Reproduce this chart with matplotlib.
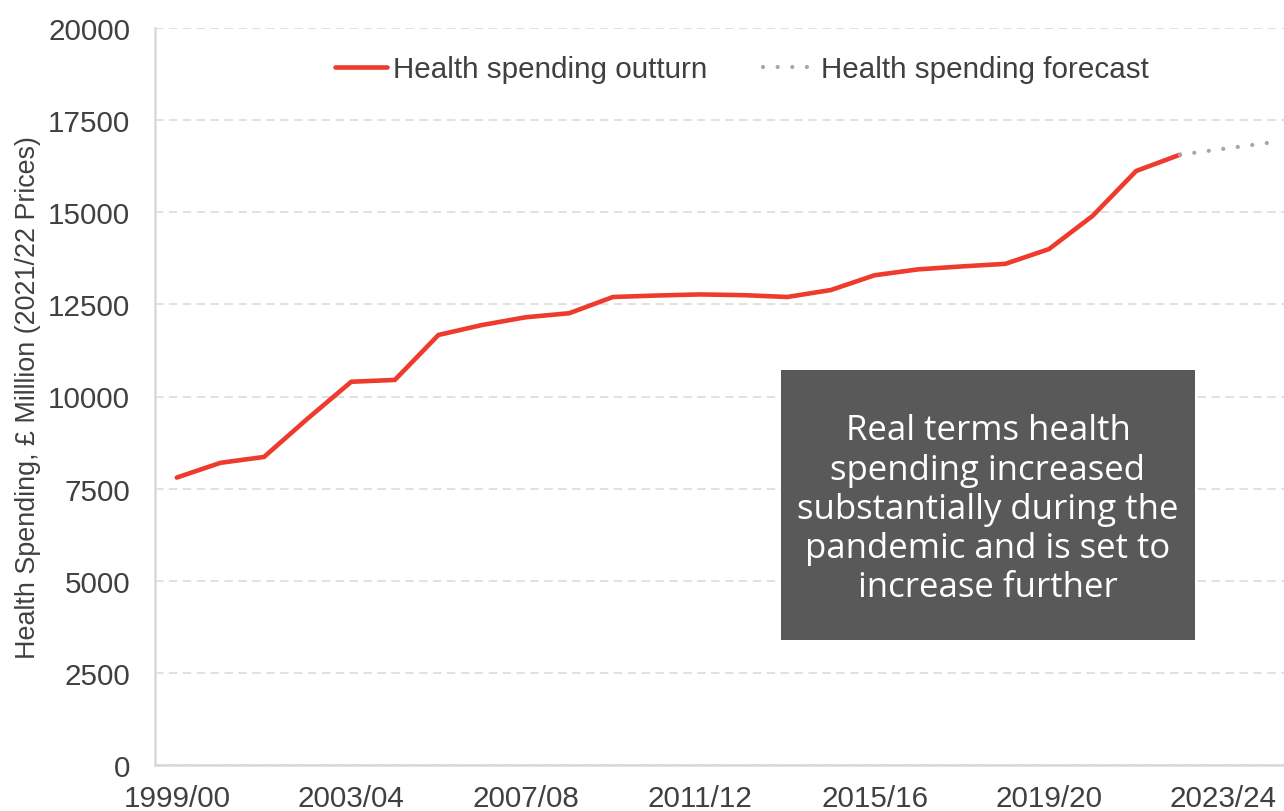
import matplotlib.pyplot as plt
from matplotlib.patches import Rectangle

plt.rcParams['font.family'] = ['Liberation Sans', 'DejaVu Sans']

# Financial years shown on the category axis (1999/00 .. 2024/25)
years = [f"{y}/{(y + 1) % 100:02d}" for y in range(1999, 2025)]

# Outturn, 1999/00 .. 2022/23, £ million in 2021/22 prices
outturn = [7800, 8200, 8360, 9400, 10400, 10450, 11670, 11940, 12150, 12260,
           12700, 12740, 12770, 12750, 12700, 12890, 13290, 13450, 13530, 13600,
           14000, 14900, 16120, 16560]

# Forecast, 2022/23 .. 2024/25
forecast_start = 23
forecast = [16560, 16720, 16880]

yticks = list(range(0, 20001, 2500))

RED = '#EE3B2E'
GREY_DOT = '#A6A6A6'
TEXT = '#404040'
GRID = '#D9D9D9'

fig = plt.figure(figsize=(12.84, 8.12), dpi=100)
ax = fig.add_axes([155 / 1284, 46 / 812, 1129 / 1284, 737 / 812])

x_out = list(range(len(outturn)))
x_fc = list(range(forecast_start, forecast_start + len(forecast)))

ax.plot(x_out, outturn, color=RED, lw=3.3, solid_capstyle='round',
        solid_joinstyle='miter', label='Health spending outturn', zorder=3)
ax.plot(x_fc, forecast, color=GREY_DOT, lw=3.0, linestyle=(0, (0.01, 3.5)),
        dash_capstyle='round', label='Health spending forecast', zorder=4)

ax.set_xlim(-0.5, 25.39)
ax.set_ylim(0, 20000)
ax.set_xticks(range(0, len(years), 4))
ax.set_xticklabels(years[::4])
ax.set_yticks(yticks)
ax.set_yticklabels([str(v) for v in yticks])

ax.tick_params(axis='both', length=0, labelsize=21.3, labelcolor=TEXT)
ax.tick_params(axis='y', pad=18)
ax.tick_params(axis='x', pad=14)

ax.grid(axis='y', color=GRID, lw=1.1, linestyle=(0, (5.5, 3.6)))
ax.set_axisbelow(True)
for side in ('top', 'right'):
    ax.spines[side].set_visible(False)
for side in ('left', 'bottom'):
    ax.spines[side].set_color(GRID)
    ax.spines[side].set_linewidth(1.8)

ax.set_ylabel('Health Spending, £ Milllion (2021/22 Prices)', fontsize=19.4,
              color=TEXT, labelpad=5)

ax.legend(loc='center', bbox_to_anchor=(0.52, 0.944), ncol=2, frameon=False,
          fontsize=21.3, labelcolor=TEXT, handlelength=1.75, handletextpad=0.2,
          columnspacing=1.9)

# Call-out box
ax.add_patch(Rectangle((0.5545, 0.1696), 0.3667, 0.3664, transform=ax.transAxes,
                       facecolor='#595959', edgecolor='none', zorder=5))
ax.text(0.7378, 0.3475,
        'Real terms health\nspending increased\nsubstantially during the\n'
        'pandemic and is set to\nincrease further',
        transform=ax.transAxes, ha='center', va='center', color='white',
        fontsize=25, family=['Open Sans', 'DejaVu Sans'], linespacing=1.2,
        zorder=6)

fig.savefig('out.png', dpi=100)
